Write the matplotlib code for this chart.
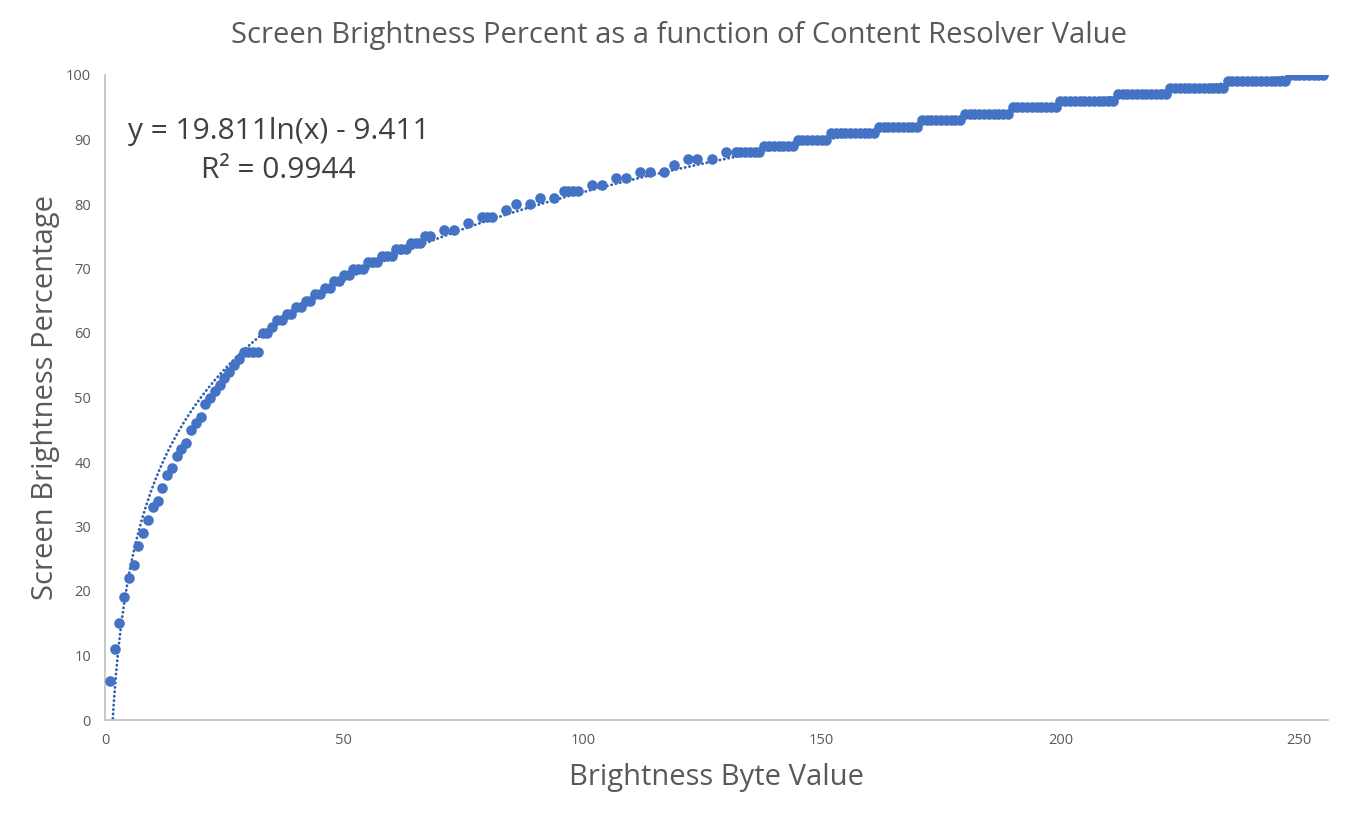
import numpy as np
import matplotlib
matplotlib.use('Agg')
import matplotlib.pyplot as plt

plt.rcParams['font.family'] = ['Open Sans', 'DejaVu Sans']

# sparse part of the data, read point by point
byte_values = [1, 2, 3, 4, 5, 6, 7, 8, 9, 10, 11, 12, 13, 14, 15, 16, 17, 18, 19, 20,
               21, 22, 23, 24, 25, 26, 27, 28, 29, 30, 31, 32, 33, 34, 35, 36, 37, 38, 39, 40,
               41, 42, 43, 44, 45, 46, 47, 48, 49, 50, 51, 52, 53, 54, 55, 56, 57, 58, 59, 60,
               61, 62, 63, 64, 65, 66, 67, 68, 71, 73, 76, 79, 80, 81, 84, 86, 89, 91, 94,
               96, 97, 98, 99, 102, 104, 107, 109, 112, 114, 117, 119, 122, 124, 127, 130]
brightness_pct = [6, 11, 15, 19, 22, 24, 27, 29, 31, 33, 34, 36, 38, 39, 41, 42, 43, 45, 46, 47,
                  49, 50, 51, 52, 53, 54, 55, 56, 57, 57, 57, 57, 60, 60, 61, 62, 62, 63, 63, 64,
                  64, 65, 65, 66, 66, 67, 67, 68, 68, 69, 69, 70, 70, 70, 71, 71, 71, 72, 72, 72,
                  73, 73, 73, 74, 74, 74, 75, 75, 76, 76, 77, 78, 78, 78, 79, 80, 80, 81, 81,
                  82, 82, 82, 82, 83, 83, 84, 84, 85, 85, 85, 86, 87, 87, 87, 88]

# upper part: every byte value, one level per run
step_levels = [88, 89, 90, 91, 92, 93, 94, 95, 96, 97, 98, 99, 100]
step_start = [132, 138, 145, 152, 162, 171, 180, 190, 200, 212, 223, 235, 248]
step_end = [137, 144, 151, 161, 170, 179, 189, 199, 211, 222, 234, 247, 255]

# Excel log trendline
fit_a = 19.811
fit_b = -9.411
r_squared = 0.9944

x = list(byte_values)
y = list(brightness_pct)
for lvl, s, e in zip(step_levels, step_start, step_end):
    for v in range(s, e + 1):
        x.append(v)
        y.append(lvl)

blue = '#4472C4'
grey = '#595959'

fig = plt.figure(figsize=(13.58, 8.15), dpi=100)
ax = fig.add_axes([105 / 1358, 1 - 720 / 815, (1328 - 105) / 1358, (720 - 75) / 815])

ax.scatter(x, y, s=58, color=blue, zorder=3, linewidths=0)

xt = np.linspace(1, 256, 600)
ax.plot(xt, fit_a * np.log(xt) + fit_b, color='#2F5FAF', lw=2.0,
        linestyle=(0, (0.1, 1.5)), dash_capstyle='round', zorder=2)

ax.set_xlim(0, 256)
ax.set_ylim(0, 100)
ax.set_xticks([0, 50, 100, 150, 200, 250])
ax.set_yticks(range(0, 101, 10))
ax.tick_params(length=0, labelsize=10.5, labelcolor=grey)
ax.tick_params(axis='x', pad=9)
ax.tick_params(axis='y', pad=10)

for side in ['top', 'right']:
    ax.spines[side].set_visible(False)
for side in ['left', 'bottom']:
    ax.spines[side].set_color('#BFBFBF')
    ax.spines[side].set_linewidth(1.2)

ax.set_xlabel('Brightness Byte Value', fontsize=21, color=grey, labelpad=11)
ax.set_ylabel('Screen Brightness Percentage', fontsize=21, color=grey, labelpad=4)
fig.text(679 / 1358, 1 - 36 / 815, 'Screen Brightness Percent as a function of Content Resolver Value',
         ha='center', va='center', fontsize=21, color=grey)

fig.text(279 / 1358, 1 - 131 / 815, f'y = {fit_a}ln(x) - {abs(fit_b)}',
         ha='center', va='center', fontsize=21.5, color='#404040')
fig.text(278 / 1358, 1 - 170 / 815, f'R² = {r_squared}',
         ha='center', va='center', fontsize=21.5, color='#404040')

fig.savefig('out.png', dpi=100)
